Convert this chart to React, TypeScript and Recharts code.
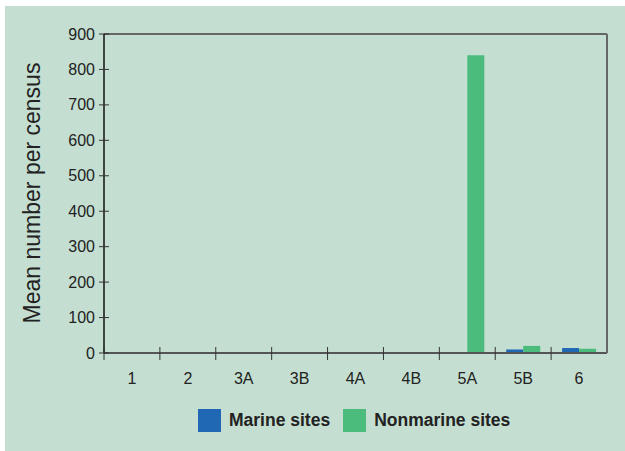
import React from "react";
import { BarChart, Bar, XAxis, YAxis } from "recharts";

const categories = ["1", "2", "3A", "3B", "4A", "4B", "5A", "5B", "6"];
const marineSites = [0, 0, 0, 0, 0, 0, 0, 10, 14];
const nonmarineSites = [0, 0, 0, 0, 0, 0, 840, 20, 12];
const yTicks = [0, 100, 200, 300, 400, 500, 600, 700, 800, 900];

const data = categories.map((c, i) => ({
    site: c,
    marine: marineSites[i],
    nonmarine: nonmarineSites[i],
}));

const BLUE = "#2067b4";
const GREEN = "#4bbc7b";
const BG = "#c4dfd1";
const FONT = "'Liberation Sans', Arial, sans-serif";

const PLOT_LEFT = 104;
const PLOT_RIGHT = 607;
const PLOT_TOP = 34;
const PLOT_BOTTOM = 353;
const BAND = (PLOT_RIGHT - PLOT_LEFT) / categories.length;

const YTick = (props: any) => {
    const { y, payload } = props;
    return (
        <g>
            <line x1={PLOT_LEFT - 5} x2={PLOT_LEFT + 5} y1={y} y2={y} stroke="#333" strokeWidth={1} />
            <text x={95} y={y} dy={5.5} textAnchor="end" fontSize={16} fill="#222" fontFamily={FONT}>
                {payload.value}
            </text>
        </g>
    );
};

const XTick = (props: any) => {
    const { x, payload } = props;
    const edge = x - BAND / 2;
    return (
        <g>
            <line x1={edge} x2={edge} y1={PLOT_BOTTOM - 6} y2={PLOT_BOTTOM + 7} stroke="#333" strokeWidth={1} />
            <text x={x} y={384} textAnchor="middle" fontSize={16} fill="#222" fontFamily={FONT}>
                {payload.value}
            </text>
        </g>
    );
};

const YLabel = () => (
    <text
        transform="translate(40,193) rotate(-90)"
        textAnchor="middle"
        fontSize={23}
        fill="#222"
        fontFamily={FONT}
    >
        Mean number per census
    </text>
);

const legendItems = [
    { name: "Marine sites", color: BLUE },
    { name: "Nonmarine sites", color: GREEN },
];

export default function App() {
    return (
        <div style={{ position: "fixed", left: 0, top: 0, width: 625, height: 451, background: "#fff" }}>
            <div style={{ position: "absolute", left: 5, top: 6, width: 620, height: 445, background: BG }} />
            <div style={{ position: "absolute", left: 0, top: 0 }}>
                <BarChart
                    width={625}
                    height={451}
                    data={data}
                    margin={{ top: PLOT_TOP - 1, right: 0, bottom: 451 - PLOT_BOTTOM - 1, left: 0 }}
                    barGap={0}
                    barSize={17}
                >
                    <XAxis
                        dataKey="site"
                        tick={<XTick />}
                        tickLine={false}
                        axisLine={{ stroke: "#555", strokeWidth: 2 }}
                        height={1}
                        interval={0}
                    />
                    <XAxis
                        xAxisId="top"
                        orientation="top"
                        dataKey="site"
                        tick={false}
                        tickLine={false}
                        axisLine={{ stroke: "#666", strokeWidth: 2 }}
                        height={1}
                    />
                    <YAxis
                        domain={[0, 900]}
                        ticks={yTicks}
                        tick={<YTick />}
                        tickLine={false}
                        axisLine={{ stroke: "#111", strokeWidth: 1.5 }}
                        width={PLOT_LEFT}
                        interval={0}
                        label={<YLabel />}
                    />
                    <YAxis
                        yAxisId="right"
                        orientation="right"
                        domain={[0, 900]}
                        tick={false}
                        tickLine={false}
                        axisLine={{ stroke: "#666", strokeWidth: 2 }}
                        width={625 - PLOT_RIGHT}
                    />
                    <Bar dataKey="marine" name="Marine sites" fill={BLUE} isAnimationActive={false} />
                    <Bar dataKey="nonmarine" name="Nonmarine sites" fill={GREEN} isAnimationActive={false} />
                </BarChart>
            </div>
            <div
                style={{
                    position: "absolute",
                    left: 198,
                    top: 409,
                    display: "flex",
                    alignItems: "center",
                    fontFamily: FONT,
                    fontWeight: "bold",
                    fontSize: 17.5,
                    color: "#222",
                }}
            >
                {legendItems.map((item, i) => (
                    <div key={item.name} style={{ display: "flex", alignItems: "center", marginRight: i === 0 ? 13 : 0 }}>
                        <div style={{ width: 23, height: 23, background: item.color, marginRight: 8 }} />
                        <span>{item.name}</span>
                    </div>
                ))}
            </div>
        </div>
    );
}
